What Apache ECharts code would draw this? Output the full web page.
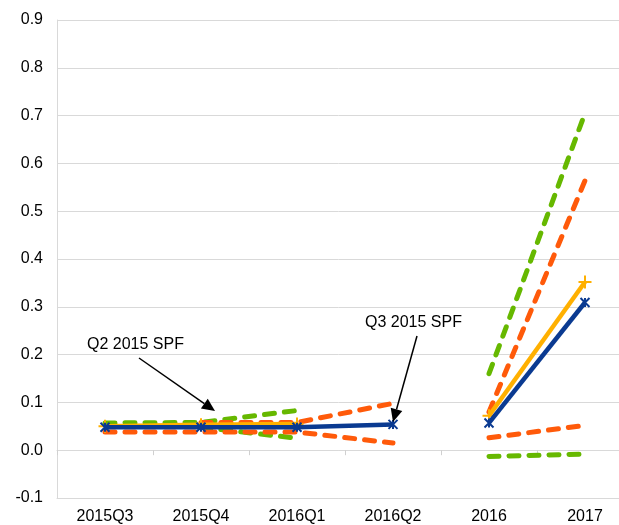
<!DOCTYPE html>
<html lang="en">
<head>
    <meta charset="UTF-8">
    <title>SPF forecasts</title>
    <script type="text/javascript" src="https://cdn.jsdelivr.net/npm/echarts@6/dist/echarts.min.js"></script>
    <style>
        html, body { margin: 0; padding: 0; background: #fff; }
    </style>
</head>
<body>
<div id="main" style="width: 619px;height: 525px"></div>
<script type="text/javascript">
    var categories = ['2015Q3', '2015Q4', '2016Q1', '2016Q2', '2016', '2017'];
    var greenUpper = [0.057, 0.058, 0.083, null, 0.16, 0.705];
    var greenLower = [null, 0.048, 0.025, null, -0.013, -0.008];
    var orangeUpper = [null, 0.058, 0.058, 0.098, 0.08, 0.564];
    var orangeLower = [0.038, 0.038, 0.038, 0.015, 0.026, 0.052];
    var yellowLine = [0.05, 0.053, 0.055, null, 0.072, 0.352];
    var blueLine = [0.048, 0.048, 0.048, 0.054, 0.057, 0.309];

    var GREEN = '#66b800';
    var ORANGE = '#ff5a0a';
    var YELLOW = '#ffb000';
    var BLUE = '#0a3a91';
    var FONT = 'Liberation Sans, Arial, sans-serif';

    var xMark = 'path://M0,0 L10,10 M10,0 L0,10 M5,0 L5,10';
    var plusMark = 'path://M5,0 L5,10 M0,5 L10,5';

    // quarterly points (0-3) and annual points (4-5) are not joined
    function quarterly(arr) {
        return arr.map(function (v, i) { return i < 4 ? v : null; });
    }
    function annual(arr) {
        return arr.map(function (v, i) { return i >= 4 ? v : null; });
    }

    function dashed(data, color) {
        return [quarterly(data), annual(data)].map(function (d) {
            return {
                type: 'line',
                data: d,
                symbol: 'none',
                connectNulls: false,
                lineStyle: { color: color, width: 5, type: [10, 10], cap: 'round' },
                z: 2
            };
        });
    }

    function solid(data, color, symbol, size, z) {
        return [quarterly(data), annual(data)].map(function (d) {
            return {
                type: 'line',
                data: d,
                symbol: symbol,
                symbolSize: size,
                showAllSymbol: true,
                connectNulls: false,
                lineStyle: { color: color, width: 4.5 },
                itemStyle: { color: color, borderColor: color, borderWidth: 2 },
                z: z
            };
        });
    }

    // arrow = line + filled head, in pixels
    function arrow(x1, y1, x2, y2) {
        var dx = x2 - x1, dy = y2 - y1;
        var len = Math.sqrt(dx * dx + dy * dy);
        var ux = dx / len, uy = dy / len;
        var bx = x2 - ux * 13, by = y2 - uy * 13;
        var px = -uy * 6, py = ux * 6;
        return [
            { type: 'line', shape: { x1: x1, y1: y1, x2: bx, y2: by }, style: { stroke: '#000', lineWidth: 1.5 }, z: 10 },
            { type: 'polygon', shape: { points: [[x2, y2], [bx + px, by + py], [bx - px, by - py]] }, style: { fill: '#000' }, z: 10 }
        ];
    }

    var chart = echarts.init(document.getElementById('main'));
    var option = {
        animation: false,
        backgroundColor: '#fff',
        grid: { left: 57, width: 576, top: 20, bottom: 27, outerBoundsMode: 'none', containLabel: false },
        xAxis: [{
            type: 'category',
            data: categories,
            axisLine: { onZero: false, lineStyle: { color: '#d9d9d9', width: 1 } },
            axisTick: { show: false },
            axisLabel: { color: '#000', fontSize: 16, fontFamily: FONT, margin: 11 }
        }, {
            type: 'category',
            data: categories,
            position: 'bottom',
            axisLine: { onZero: true, lineStyle: { color: '#d9d9d9', width: 1 } },
            axisTick: { show: true, length: 5, lineStyle: { color: '#d0d0d0' } },
            axisLabel: { show: false }
        }],
        yAxis: {
            type: 'value',
            min: -0.1,
            max: 0.9,
            interval: 0.1,
            axisLine: { show: true, lineStyle: { color: '#d9d9d9' } },
            axisTick: { show: false },
            splitLine: { lineStyle: { color: '#d9d9d9', width: 1 } },
            axisLabel: {
                color: '#000', fontSize: 16, fontFamily: FONT, margin: 14,
                formatter: function (v) { return v.toFixed(1); }
            }
        },
        series: [].concat(
            dashed(greenUpper, GREEN),
            dashed(greenLower, GREEN),
            dashed(orangeUpper, ORANGE),
            dashed(orangeLower, ORANGE),
            solid(yellowLine, YELLOW, plusMark, 13, 3),
            solid(blueLine, BLUE, xMark, 9, 4)
        ),
        graphic: [
            { type: 'text', left: 87, top: 337, style: { text: 'Q2 2015 SPF', fill: '#000', font: '16px ' + FONT }, z: 10 },
            { type: 'text', left: 365, top: 315, style: { text: 'Q3 2015 SPF', fill: '#000', font: '16px ' + FONT }, z: 10 }
        ].concat(arrow(139, 358, 215, 411), arrow(417, 336, 393, 422))
    };
    chart.setOption(option);
</script>
</body>
</html>
